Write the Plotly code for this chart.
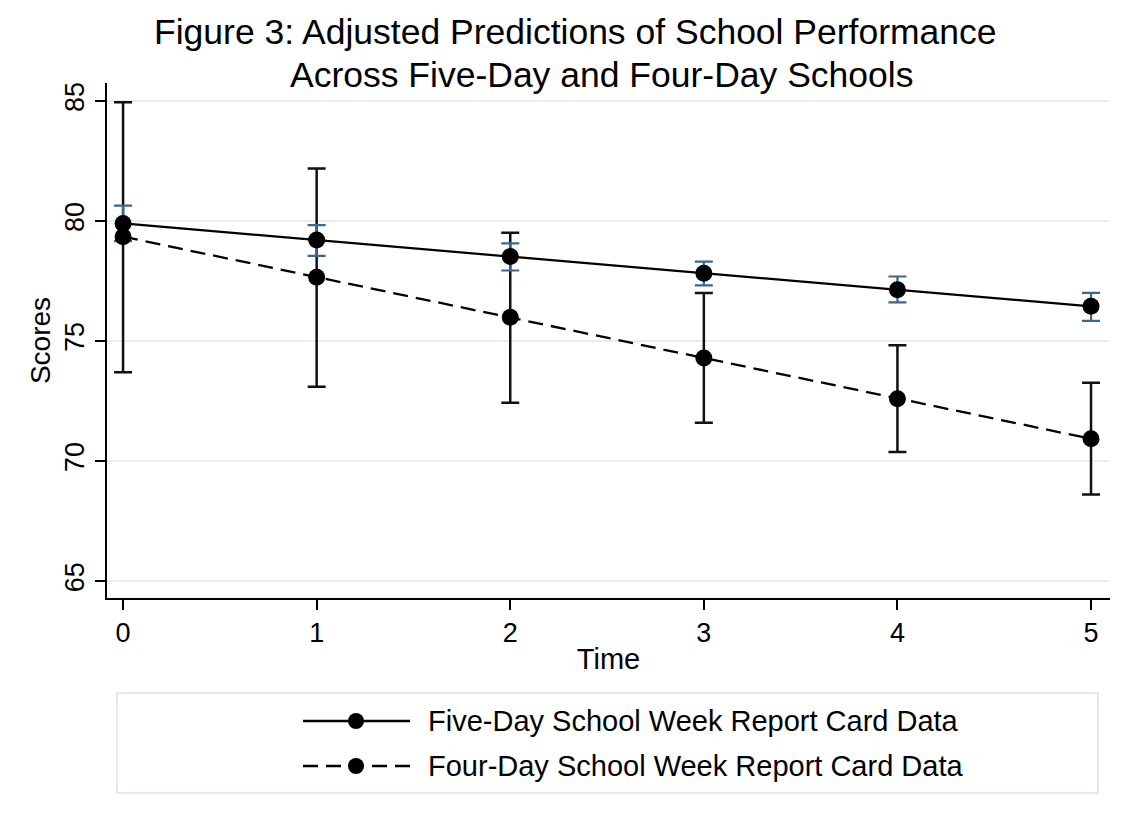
import plotly.graph_objects as go

# ---------------- data ----------------
time = [0, 1, 2, 3, 4, 5]

five_mean = [79.90, 79.21, 78.52, 77.83, 77.14, 76.45]
five_lo = [79.16, 78.55, 77.94, 77.32, 76.61, 75.84]
five_hi = [80.64, 79.83, 79.07, 78.31, 77.69, 77.01]

four_mean = [79.35, 77.66, 75.99, 74.30, 72.60, 70.93]
four_lo = [73.70, 73.10, 72.43, 71.60, 70.38, 68.61]
four_hi = [84.95, 82.19, 79.51, 77.00, 74.83, 73.27]

y_ticks = [65, 70, 75, 80, 85]
x_ticks = [0, 1, 2, 3, 4, 5]

title_line1 = "Figure 3: Adjusted Predictions of School Performance"
title_line2 = "Across Five-Day and Four-Day Schools"
legend_labels = ["Five-Day School Week Report Card Data",
                 "Four-Day School Week Report Card Data"]

# ---------------- styling ----------------
FONT = "Liberation Sans, Arial, sans-serif"
BLUE = "#3a6690"
GRID = "#e6eef0"
DASH = "15px,8px"

W, H = 1134, 826
L, R, T, B = 107, 1110, 83, 598  # plot area in pixels


def X(p):
    return (p - L) / (R - L)


def Y(p):
    return (B - p) / (B - T)


fig = go.Figure()

# error bars first (beneath the lines and markers)
fig.add_trace(go.Scatter(
    x=time, y=four_mean, mode="markers",
    marker=dict(size=1, color="rgba(0,0,0,0)"),
    error_y=dict(type="data", symmetric=False,
                 array=[h - m for h, m in zip(four_hi, four_mean)],
                 arrayminus=[m - l for m, l in zip(four_mean, four_lo)],
                 color="#111111", thickness=2.5, width=9),
    showlegend=False, hoverinfo="skip"))
fig.add_trace(go.Scatter(
    x=time, y=five_mean, mode="markers",
    marker=dict(size=1, color="rgba(0,0,0,0)"),
    error_y=dict(type="data", symmetric=False,
                 array=[h - m for h, m in zip(five_hi, five_mean)],
                 arrayminus=[m - l for m, l in zip(five_mean, five_lo)],
                 color=BLUE, thickness=2.2, width=9),
    showlegend=False, hoverinfo="skip"))

fig.add_trace(go.Scatter(
    x=time, y=four_mean, mode="lines+markers",
    line=dict(color="black", width=2.3, dash=DASH),
    marker=dict(color="black", size=17),
    name=legend_labels[1], showlegend=False))
fig.add_trace(go.Scatter(
    x=time, y=five_mean, mode="lines+markers",
    line=dict(color="black", width=2.3),
    marker=dict(color="black", size=17),
    name=legend_labels[0], showlegend=False))

# ---------------- custom legend (Stata-style long keys) ----------------
shapes = []
annotations = []
shapes.append(dict(type="rect", xref="paper", yref="paper",
                   x0=X(117), x1=X(1098), y0=Y(793), y1=Y(693),
                   line=dict(color="#e2eaed", width=2), fillcolor="white",
                   layer="below"))
for i, (yy, dash) in enumerate([(721, "solid"), (766, DASH)]):
    shapes.append(dict(type="line", xref="paper", yref="paper",
                       x0=X(303), x1=X(410), y0=Y(yy), y1=Y(yy),
                       line=dict(color="black", width=2.5, dash=dash)))
    shapes.append(dict(type="circle", xref="paper", yref="paper",
                       xsizemode="pixel", ysizemode="pixel",
                       xanchor=X(356), yanchor=Y(yy),
                       x0=-8, x1=8, y0=-8, y1=8,
                       fillcolor="black", line=dict(color="black", width=0)))
    annotations.append(dict(text=legend_labels[i], xref="paper", yref="paper",
                            x=X(426), y=Y(yy), xanchor="left", yanchor="middle",
                            showarrow=False,
                            font=dict(family=FONT, size=29, color="black")))

# title lines
annotations.append(dict(text=title_line1, xref="paper", yref="paper",
                        x=X(575), y=Y(32), xanchor="center", yanchor="middle",
                        showarrow=False, font=dict(family=FONT, size=35.5, color="black")))
annotations.append(dict(text=title_line2, xref="paper", yref="paper",
                        x=X(601), y=Y(75), xanchor="center", yanchor="middle",
                        showarrow=False, font=dict(family=FONT, size=35.5, color="black")))

fig.update_layout(
    width=W, height=H,
    margin=dict(l=L, r=W - R, t=T, b=H - B, pad=0),
    paper_bgcolor="white", plot_bgcolor="white",
    font=dict(family=FONT, color="black"),
    showlegend=False,
    shapes=shapes, annotations=annotations,
    xaxis=dict(range=[-0.083, 5.098], tickvals=x_ticks,
               ticktext=[str(v) for v in x_ticks],
               showgrid=False, zeroline=False,
               showline=True, linecolor="black", linewidth=1.5,
               ticks="outside", ticklen=10, tickwidth=1.5, tickcolor="black",
               tickfont=dict(size=27, family=FONT),
               title=dict(text="Time", font=dict(size=29, family=FONT), standoff=2)),
    yaxis=dict(range=[64.3, 85.75], tickvals=y_ticks,
               ticktext=[str(v) for v in y_ticks],
               showgrid=True, gridcolor=GRID, gridwidth=1.5, zeroline=False,
               showline=True, linecolor="black", linewidth=1.5,
               ticks="outside", ticklen=10, tickwidth=1.5, tickcolor="black",
               tickangle=-90,
               tickfont=dict(size=27, family=FONT),
               title=dict(text="Scores", font=dict(size=28, family=FONT), standoff=2)),
)

fig.write_html("out.html", config={"displayModeBar": False},
               post_script="document.body.style.margin='0';")
